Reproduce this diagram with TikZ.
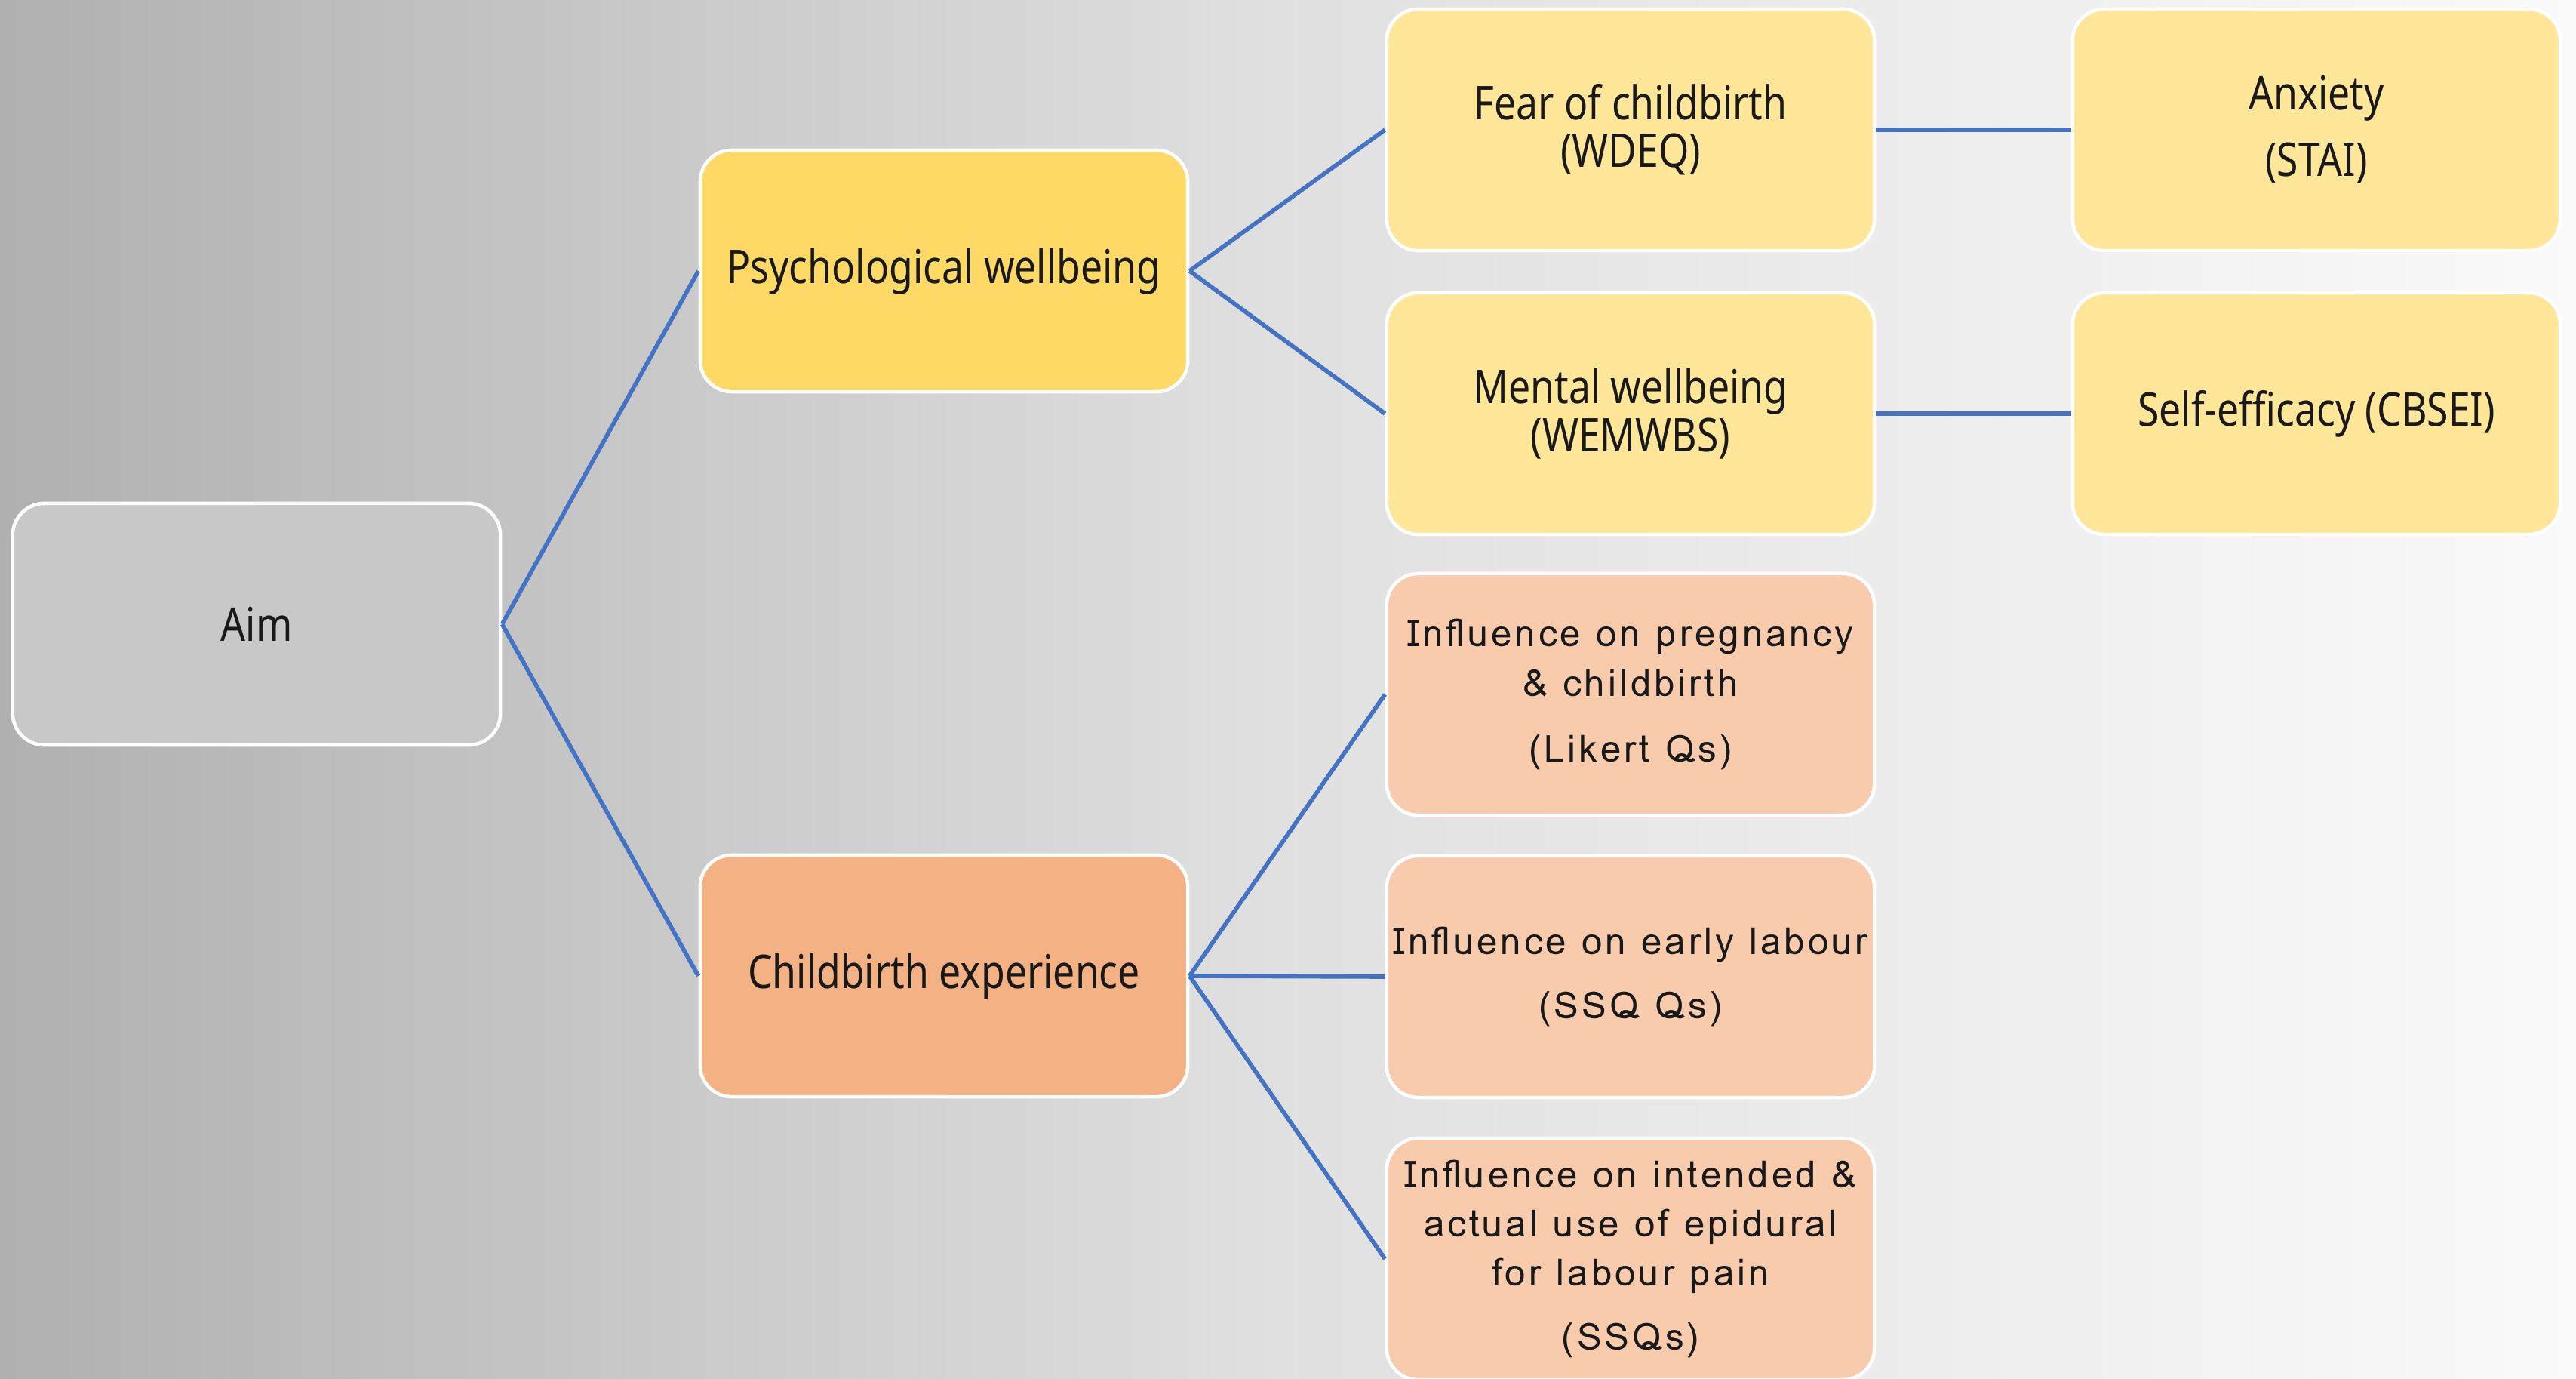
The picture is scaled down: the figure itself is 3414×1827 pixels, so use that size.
\documentclass[tikz,border=0pt]{standalone}
\usepackage{fontspec}
\setmainfont{Noto Sans}
\newfontfamily\condf[FakeStretch=0.84]{Noto Sans}
\newfontfamily\widef[LetterSpace=8]{Loma}
\definecolor{linkblue}{HTML}{4472C4}
\definecolor{aimgray}{HTML}{C8C8C8}
\definecolor{goldA}{HTML}{FFD966}
\definecolor{goldB}{HTML}{FFE699}
\definecolor{peachA}{HTML}{F4B183}
\definecolor{peachB}{HTML}{F8CBAD}
\begin{document}
\begin{tikzpicture}[x=0.01cm,y=-0.01cm,
  box/.style={rectangle,rounded corners=0.42cm,draw=white,line width=1.3pt,
    minimum width=6.46cm,minimum height=3.2cm,align=center,inner sep=2pt,
    font=\condf\fontsize{17.5}{18}\selectfont,text=black!90},
  wbox/.style={box,font=\widef\fontsize{14}{18.5}\selectfont},
  link/.style={draw=linkblue,line width=1.6pt}]
\shade[left color=black!31,right color=black!2,middle color=black!12] (0,0) rectangle (3414,1827);
\useasboundingbox (0,0) rectangle (3414,1827);
\node[box,fill=aimgray] (aim) at (340,827) {Aim};
\node[box,fill=goldA] (psy) at (1251,359) {Psychological wellbeing};
\node[box,fill=peachA] (cbe) at (1251,1293) {Childbirth experience};
\node[box,fill=goldB] (fear) at (2161,172) {Fear of childbirth\\(WDEQ)};
\node[box,fill=goldB] (ment) at (2161,548) {Mental wellbeing\\(WEMWBS)};
\node[box,fill=goldB] (anx) at (3070,172) {Anxiety\\[0.25cm](STAI)};
\node[box,fill=goldB] (self) at (3070,548) {Self-efficacy (CBSEI)};
\node[wbox,fill=peachB] (preg) at (2161,920) {Influence on pregnancy\\\& childbirth\\[0.22cm](Likert Qs)};
\node[wbox,fill=peachB] (early) at (2161,1294) {Influence on early labour\\[0.2cm](SSQ Qs)};
\node[wbox,fill=peachB] (epi) at (2161,1668) {Influence on intended \&\\actual use of epidural\\for labour pain\\[0.2cm](SSQs)};
\draw[link] (aim.east) -- (psy.west);
\draw[link] (aim.east) -- (cbe.west);
\draw[link] (psy.east) -- (fear.west);
\draw[link] (psy.east) -- (ment.west);
\draw[link] (fear.east) -- (anx.west);
\draw[link] (ment.east) -- (self.west);
\draw[link] (cbe.east) -- (preg.west);
\draw[link] (cbe.east) -- (early.west);
\draw[link] (cbe.east) -- (epi.west);
\end{tikzpicture}
\end{document}
